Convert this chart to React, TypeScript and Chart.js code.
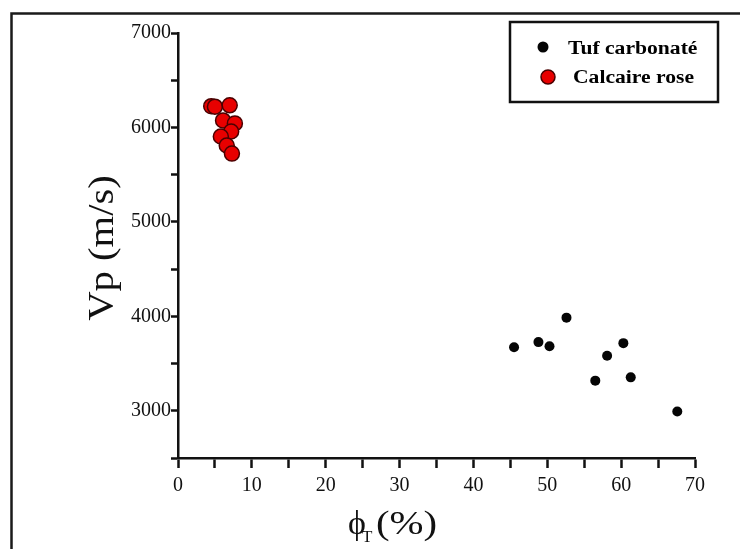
import React, { useEffect, useRef } from "react";
import { Chart, registerables } from "chart.js";

Chart.register(...registerables);

// Tuf carbonaté (black)
const tufPorosity = [45.5, 48.8, 50.3, 52.6, 56.5, 58.1, 60.3, 61.3, 67.6];
const tufVp = [3673, 3727, 3684, 3986, 3319, 3582, 3716, 3354, 2993];

// Calcaire rose (red)
const calcPorosity = [4.5, 5.0, 7.0, 6.1, 7.7, 7.2, 5.8, 6.6, 7.3];
const calcVp = [6225, 6220, 6234, 6074, 6043, 5957, 5904, 5809, 5723];

const seriesLabels = ["Tuf carbonaté", "Calcaire rose"];
const xTickValues = [0, 10, 20, 30, 40, 50, 60, 70];
const yTickValues = [3000, 4000, 5000, 6000, 7000];
const yTitle = "Vp (m/s)";
const xTitleSymbol = "ϕ";
const xTitleSub = "T";
const xTitleRest = "(%)";

const SERIF = '"Liberation Serif", "Times New Roman", serif';

const decorPlugin = {
  id: "decor",
  afterDraw(chart: any) {
    const ctx = chart.ctx as CanvasRenderingContext2D;
    ctx.save();
    // outer frame (left and top visible)
    ctx.strokeStyle = "#1a1a1a";
    ctx.lineWidth = 2.5;
    ctx.beginPath();
    ctx.moveTo(740, 13.5);
    ctx.lineTo(11.5, 13.5);
    ctx.lineTo(11.5, 549);
    ctx.stroke();

    // Y title
    ctx.save();
    ctx.translate(113, 248);
    ctx.rotate(-Math.PI / 2);
    ctx.scale(1.16, 1);
    ctx.fillStyle = "#111";
    ctx.font = `35px ${SERIF}`;
    ctx.textAlign = "center";
    ctx.textBaseline = "alphabetic";
    ctx.fillText(yTitle, 0, 0);
    ctx.restore();

    // X title
    ctx.save();
    ctx.fillStyle = "#111";
    ctx.textBaseline = "alphabetic";
    ctx.textAlign = "left";
    ctx.font = `34px ${SERIF}`;
    ctx.fillText(xTitleSymbol, 348, 534);
    ctx.font = `17px ${SERIF}`;
    ctx.fillText(xTitleSub, 362, 542);
    ctx.translate(376, 534);
    ctx.scale(1.2, 1);
    ctx.font = `34px ${SERIF}`;
    ctx.fillText(xTitleRest, 0, 0);
    ctx.restore();

    // Legend
    ctx.strokeStyle = "#111";
    ctx.lineWidth = 2.5;
    ctx.strokeRect(510, 22, 208, 80);
    const ds = chart.data.datasets;
    const rows = [
      { dotX: 543, dotY: 47, textX: 568, baseY: 54 },
      { dotX: 548, dotY: 77, textX: 573, baseY: 83 },
    ];
    ds.forEach((d: any, i: number) => {
      const r = rows[i];
      ctx.beginPath();
      ctx.arc(r.dotX, r.dotY, i === 0 ? 5.5 : 7, 0, Math.PI * 2);
      ctx.fillStyle = d.backgroundColor;
      ctx.fill();
      if (d.borderWidth) {
        ctx.lineWidth = d.borderWidth;
        ctx.strokeStyle = d.borderColor;
        ctx.stroke();
      }
      ctx.save();
      ctx.translate(r.textX, r.baseY);
      ctx.scale(1.2, 1);
      ctx.fillStyle = "#000";
      ctx.font = `bold 18px ${SERIF}`;
      ctx.textAlign = "left";
      ctx.fillText(d.label, 0, 0);
      ctx.restore();
    });
    ctx.restore();
  },
};

export default function App() {
  const ref = useRef<HTMLCanvasElement>(null);
  useEffect(() => {
    if (!ref.current) return;
    const chart = new Chart(ref.current, {
      type: "scatter",
      data: {
        datasets: [
          {
            label: seriesLabels[0],
            data: tufPorosity.map((x, i) => ({ x, y: tufVp[i] })),
            backgroundColor: "#050505",
            borderColor: "#050505",
            borderWidth: 0,
            pointRadius: 5,
          },
          {
            label: seriesLabels[1],
            data: calcPorosity.map((x, i) => ({ x, y: calcVp[i] })),
            backgroundColor: "#e80000",
            borderColor: "#4a0000",
            borderWidth: 1.5,
            pointRadius: 7.5,
          },
        ],
      },
      options: {
        responsive: false,
        animation: false,
        devicePixelRatio: 1,
        layout: { padding: { left: 0, top: 33, right: 45, bottom: 0 } },
        plugins: { legend: { display: false }, tooltip: { enabled: false } },
        scales: {
          x: {
            type: "linear",
            min: 0,
            max: 70,
            afterFit: (s: any) => {
              s.height = 91;
            },
            ticks: {
              stepSize: 5,
              autoSkip: false,
              maxRotation: 0,
              padding: 6,
              color: "#111",
              font: { family: SERIF, size: 20 },
              callback: (v: any) => (xTickValues.includes(v) ? String(v) : ""),
            },
            grid: {
              drawOnChartArea: false,
              drawTicks: true,
              tickLength: 10,
              tickWidth: 2.5,
              tickColor: "#111",
            },
            border: { display: true, width: 2.5, color: "#111" },
          },
          y: {
            type: "linear",
            min: 2500,
            max: 7000,
            afterFit: (s: any) => {
              s.width = 178;
            },
            ticks: {
              stepSize: 500,
              autoSkip: false,
              padding: 0,
              color: "#111",
              font: { family: SERIF, size: 20 },
              callback: (v: any) => (yTickValues.includes(v) ? String(v) : ""),
            },
            grid: {
              drawOnChartArea: false,
              drawTicks: true,
              tickLength: 7,
              tickWidth: 2.5,
              tickColor: "#111",
            },
            border: { display: true, width: 2.5, color: "#111" },
          },
        },
      },
      plugins: [decorPlugin],
    });
    return () => chart.destroy();
  }, []);
  return (
    <div style={{ position: "fixed", left: 0, top: 0, width: 740, height: 549, background: "#fff" }}>
      <canvas ref={ref} width={740} height={549} style={{ width: 740, height: 549, display: "block" }} />
    </div>
  );
}
